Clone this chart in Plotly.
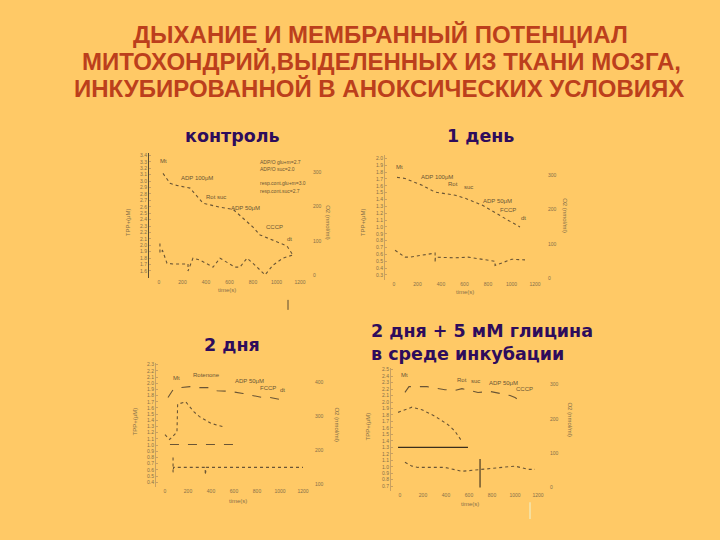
import plotly.graph_objects as go

W, H = 720, 540

# ---------------- data ----------------
time_ticks = [0, 200, 400, 600, 800, 1000, 1200]
time_labels = ["0", "200", "400", "600", "800", "1000", "1200"]

# panel 1: контроль
p1_left_ticks = [3.4, 3.3, 3.2, 3.1, 3.0, 2.9, 2.8, 2.7, 2.6, 2.5, 2.4, 2.3, 2.2, 2.1, 2.0, 1.9, 1.8, 1.7, 1.6]
p1_right_ticks = [0, 100, 200, 300]
p1_o2_t = [34, 94, 150, 264, 374, 450, 519, 630, 732, 800, 860, 1004, 1089, 1140]
p1_o2 = [297, 268, 262, 254, 210, 204, 198, 192, 160, 140, 117, 96, 85, 58]
p1_tpp_t = [8, 8, 30, 68, 119, 247, 247, 289, 349, 460, 519, 647, 689, 749, 800, 902, 970, 1055, 1140]
p1_tpp = [2.03, 1.88, 1.92, 1.72, 1.71, 1.71, 1.60, 1.80, 1.77, 1.66, 1.80, 1.66, 1.66, 1.80, 1.72, 1.54, 1.69, 1.80, 1.85]

# panel 2: 1 день
p2_left_ticks = [2.0, 1.9, 1.8, 1.7, 1.6, 1.5, 1.4, 1.3, 1.2, 1.1, 1.0, 0.9, 0.8, 0.7, 0.6, 0.5, 0.4, 0.3]
p2_right_ticks = [0, 100, 200, 300]
p2_o2_t = [26, 94, 239, 350, 521, 606, 750, 860, 970, 1072]
p2_o2 = [294, 291, 271, 251, 242, 233, 213, 190, 169, 149]
p2_tpp_t = [9, 94, 137, 350, 350, 352, 521, 630, 860, 860, 1004, 1115]
p2_tpp = [0.66, 0.56, 0.56, 0.62, 0.48, 0.56, 0.55, 0.56, 0.50, 0.44, 0.53, 0.52]

# panel 3: 2 дня
p3_left_ticks = [2.3, 2.2, 2.1, 2.0, 1.9, 1.8, 1.7, 1.6, 1.5, 1.4, 1.3, 1.2, 1.1, 1.0, 0.9, 0.8, 0.7, 0.6, 0.5, 0.4]
p3_right_ticks = [100, 200, 300, 400]
p3_o2_t = [26, 70, 130, 217, 304, 391, 452, 565, 678, 765, 843, 913, 1000, 1005]
p3_o2 = [356, 379, 385, 388, 385, 385, 376, 374, 368, 362, 356, 356, 350, 329]
p3_mid_t = [0, 40, 104, 104, 110, 180, 250, 300, 400, 500]
p3_mid = [1.17, 1.09, 1.21, 1.61, 1.66, 1.70, 1.54, 1.46, 1.35, 1.30]
p3_base_t = [43, 626]
p3_base = [1.01, 1.01]
p3_tpp_t = [70, 70, 75, 200, 350, 350, 360, 600, 800, 1000, 1200]
p3_tpp = [0.80, 0.56, 0.64, 0.64, 0.64, 0.52, 0.64, 0.64, 0.64, 0.64, 0.64]

# panel 4: 2 дня + 5 мМ глицина
p4_left_ticks = [2.5, 2.4, 2.3, 2.2, 2.1, 2.0, 1.9, 1.8, 1.7, 1.6, 1.5, 1.4, 1.3, 1.2, 1.1, 1.0, 0.9, 0.8, 0.7]
p4_right_ticks = [0, 100, 200, 300]
p4_o2_t = [43, 78, 104, 235, 391, 478, 539, 609, 678, 783, 870, 957, 1000, 1043]
p4_o2 = [277, 294, 294, 294, 285, 283, 288, 283, 277, 280, 274, 268, 262, 253]
p4_mid_t = [-17, 104, 191, 304, 417, 478, 539]
p4_mid = [1.84, 1.92, 1.88, 1.78, 1.65, 1.55, 1.39]
p4_base_t = [-17, 591]
p4_base = [1.30, 1.30]
p4_tpp_t = [43, 104, 157, 304, 391, 539, 1000, 1113, 1174]
p4_tpp = [1.07, 1.01, 0.99, 0.99, 0.99, 0.93, 1.01, 0.96, 0.96]
p4_drop_t = [696, 696]
p4_drop = [1.12, 0.68]

# ---------------- layout helpers ----------------
INK = "#6a5535"
TICK = "#86704a"
BG = "#FFC966"


def lin(v1, p1, v2, p2, p):
    return v1 + (p - p1) * (v2 - v1) / (p2 - p1)


# panel geometry in pixels: x of t=0, px per second, plot box, left/right axis refs
panels = [
    dict(x0=159, sx=0.1175, left=149, right=312, top=153, bottom=278,
         lref=(3.4, 155, 1.6, 271), rref=(300, 172, 0, 275),
         lt=p1_left_ticks, rt=p1_right_ticks),
    dict(x0=394, sx=0.1175, left=385, right=547, top=155, bottom=280,
         lref=(2.0, 158, 0.3, 275), rref=(300, 175, 0, 278),
         lt=p2_left_ticks, rt=p2_right_ticks),
    dict(x0=165, sx=0.115, left=156, right=314, top=363, bottom=488,
         lref=(2.3, 365, 0.4, 483), rref=(400, 383, 100, 485),
         lt=p3_left_ticks, rt=p3_right_ticks),
    dict(x0=400, sx=0.115, left=391, right=549, top=368, bottom=492,
         lref=(2.5, 370, 0.7, 487), rref=(300, 385, 0, 488),
         lt=p4_left_ticks, rt=p4_right_ticks),
]

fig = go.Figure()
layout = {}

for k, p in enumerate(panels, start=1):
    xs = "" if k == 1 else str(k)
    ly = 2 * k - 1
    ry = 2 * k
    lys = "" if ly == 1 else str(ly)
    xr = [(p["left"] - p["x0"]) / p["sx"], (p["right"] - p["x0"]) / p["sx"]]
    a, pa, b, pb = p["lref"]
    yl = [lin(a, pa, b, pb, p["bottom"]), lin(a, pa, b, pb, p["top"])]
    a, pa, b, pb = p["rref"]
    yr = [lin(a, pa, b, pb, p["bottom"]), lin(a, pa, b, pb, p["top"])]
    layout["xaxis" + xs] = dict(
        domain=[p["left"] / W, p["right"] / W], range=xr, anchor="y" + lys,
        tickvals=time_ticks, ticktext=time_labels, showgrid=False, zeroline=False,
        showline=False, ticks="", tickfont=dict(size=5, color=TICK, family="Liberation Sans"),
    )
    layout["yaxis" + lys] = dict(
        domain=[1 - p["bottom"] / H, 1 - p["top"] / H], range=yl, anchor="x" + xs,
        tickvals=p["lt"], ticktext=[f"{v:.1f}" for v in p["lt"]], showgrid=False,
        zeroline=False, showline=True, linecolor="#5a4a30" if k == 1 else "#c9a060",
        linewidth=1, ticks="inside", ticklen=2, tickcolor="#c9a060",
        tickfont=dict(size=5, color=TICK, family="Liberation Sans"),
    )
    layout["yaxis" + str(ry)] = dict(
        overlaying="y" + lys, side="right", anchor="x" + xs, range=yr,
        tickvals=p["rt"], ticktext=[str(v) for v in p["rt"]], showgrid=False,
        zeroline=False, showline=False, ticks="",
        tickfont=dict(size=5, color=TICK, family="Liberation Sans"),
    )

series = [
    (1, "r", p1_o2_t, p1_o2, "dot"),
    (1, "l", p1_tpp_t, p1_tpp, "dot"),
    (2, "r", p2_o2_t, p2_o2, "dot"),
    (2, "l", p2_tpp_t, p2_tpp, "dot"),
    (3, "r", p3_o2_t, p3_o2, "dash"),
    (3, "l", p3_mid_t, p3_mid, "dot"),
    (3, "l", p3_base_t, p3_base, "dash"),
    (3, "l", p3_tpp_t, p3_tpp, "dot"),
    (4, "r", p4_o2_t, p4_o2, "dash"),
    (4, "l", p4_mid_t, p4_mid, "dot"),
    (4, "l", p4_base_t, p4_base, "solid"),
    (4, "l", p4_tpp_t, p4_tpp, "dot"),
    (4, "l", p4_drop_t, p4_drop, "solid"),
]
for k, side, t, v, dash in series:
    xs = "x" if k == 1 else "x" + str(k)
    yi = 2 * k - 1 if side == "l" else 2 * k
    ys = "y" if yi == 1 else "y" + str(yi)
    fig.add_trace(go.Scatter(
        x=t, y=v, xaxis=xs, yaxis=ys, mode="lines",
        line=dict(color=INK if dash != "solid" else "#3a2e1c", width=1.1, dash=dash),
        showlegend=False, hoverinfo="skip",
    ))

ann = []


def txt(x, y, s, size=6, color=INK, bold=False, family="Liberation Sans", angle=0, xanchor="center"):
    ann.append(dict(
        x=x / W, y=1 - y / H, xref="paper", yref="paper", text=f"<b>{s}</b>" if bold else s,
        showarrow=False, xanchor=xanchor, yanchor="middle", textangle=angle,
        font=dict(size=size, color=color, family=family),
    ))


# title
TITLE = "#BC3F1C"
txt(380, 34, "ДЫХАНИЕ И МЕМБРАННЫЙ ПОТЕНЦИАЛ", 24, TITLE, True)
txt(381, 61, "МИТОХОНДРИЙ,ВЫДЕЛЕННЫХ ИЗ ТКАНИ МОЗГА,", 24, TITLE, True)
txt(379, 88, "ИНКУБИРОВАННОЙ В АНОКСИЧЕСКИХ УСЛОВИЯХ", 24, TITLE, True)

SUB = "#2E0C5C"
txt(232, 135, "контроль", 17.5, SUB, True, "DejaVu Sans")
txt(481, 135, "1 день", 17.5, SUB, True, "DejaVu Sans")
txt(232, 345, "2 дня", 17.5, SUB, True, "DejaVu Sans")
txt(369, 331, "2 дня + 5 мМ глицина", 17.5, SUB, True, "DejaVu Sans", xanchor="left")
txt(369, 354, "в среде инкубации", 17.5, SUB, True, "DejaVu Sans", xanchor="left")

# axis titles
for (xt, yt), (xl, yl), (xr_, yr_) in [
    ((227, 290), (128, 222), (328, 222)),
    ((465, 292), (363, 222), (565, 215)),
    ((238, 502), (135, 422), (337, 425)),
    ((470, 505), (368, 427), (570, 420)),
]:
    txt(xt, yt, "time(s)", 6, TICK)
    txt(xl, yl, "TPP+(μM)", 6, TICK, angle=-90)
    txt(xr_, yr_, "O2 (nmol/ml)", 6, TICK, angle=90)

# event labels
for x, y, s in [
    (163, 161, "Mt"), (197, 178, "ADP 100μM"), (216, 197, "Rot suc"), (245, 208, "ADP 50μM"),
    (274, 227, "CCCP"), (289, 239, "dt"),
    (399, 167, "Mt"), (437, 177, "ADP 100μM"), (453, 184, "Rot"), (468, 187, "suc"),
    (497, 201, "ADP 50μM"), (508, 210, "FCCP"), (523, 218, "dt"),
    (176, 378, "Mt"), (206, 375, "Rotenone"), (249, 381, "ADP 50μM"), (268, 388, "FCCP"), (282, 390, "dt"),
    (404, 375, "Mt"), (462, 380, "Rot"), (475, 381, "suc"), (503, 383, "ADP 50μM"), (524, 389, "CCCP"),
]:
    txt(x, y, s, 6, INK)

for y, s in [(162, "ADP/O glu+m=2.7"), (169, "ADP/O suc=2.0"),
             (183, "resp.cont.glu+m=3.0"), (191, "resp.cont.suc=2.7")]:
    txt(258, y, s, 5, INK, xanchor="left")

shapes = [
    dict(type="line", xref="paper", yref="paper", x0=288 / W, x1=288 / W, y0=1 - 300 / H, y1=1 - 310 / H,
         line=dict(color="#5a4a30", width=1)),
    dict(type="line", xref="paper", yref="paper", x0=530 / W, x1=530 / W, y0=1 - 503 / H, y1=1 - 520 / H,
         line=dict(color="#f3e6b0", width=1.5)),
]

fig.update_layout(
    width=W, height=H, autosize=False,
    margin=dict(l=0, r=0, t=0, b=0),
    paper_bgcolor=BG, plot_bgcolor=BG,
    annotations=ann, shapes=shapes, **layout,
)

fig.write_html(
    "out.html",
    config={"displayModeBar": False, "staticPlot": True},
    post_script="document.body.style.margin='0';document.body.style.padding='0';"
                "document.body.style.background='#FFC966';document.body.style.overflow='hidden';",
)
